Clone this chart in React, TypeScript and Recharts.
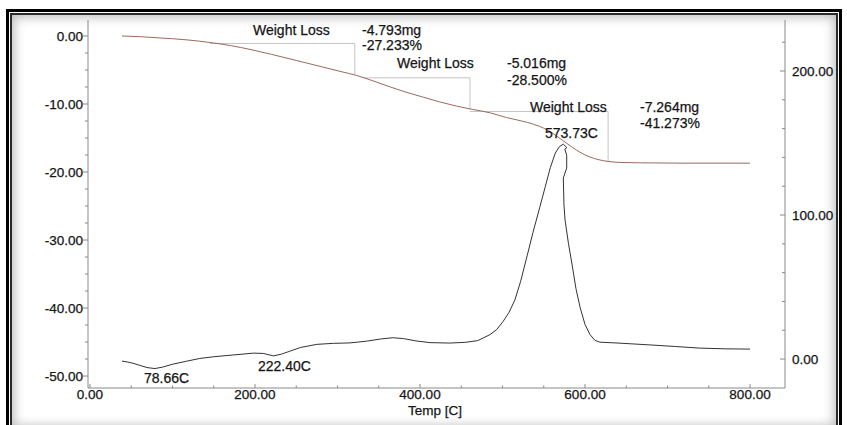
import { ComposedChart, Line, XAxis, YAxis } from 'recharts';

// TGA trace: [temp °C, weight change]
const tgaCurve: [number, number][] = [
  [38.8, 0], [60, -0.1], [80, -0.25], [100, -0.4], [120, -0.6], [145, -0.95],
  [170, -1.4], [195, -2.0], [220, -2.7], [250, -3.6], [280, -4.5], [303, -5.2],
  [323, -5.8], [343, -6.6], [364, -7.5], [384, -8.3], [404, -9.0], [424, -9.7],
  [444, -10.3], [464, -10.8], [485, -11.3], [505, -12.0], [530, -12.7], [545, -13.3],
  [554, -13.8], [562, -14.4], [570, -15.1], [578, -15.8], [585, -16.4], [594, -17.1],
  [606, -17.8], [617, -18.2], [628, -18.45], [645, -18.6], [667, -18.65], [720, -18.7],
  [800, -18.7],
];

// DTA trace: [temp °C, signal]
const dtaCurve: [number, number][] = [
  [38.8, -1.4], [45, -2.0], [52, -2.9], [60, -4.3], [69, -5.9], [78.66, -6.6],
  [88, -5.6], [100, -3.6], [117, -1.5], [133, 0.4], [150, 1.6], [173, 2.8],
  [198, 4.1], [210, 3.9], [222.4, 2.2], [232, 3.4], [242, 5.4], [255, 8.0],
  [275, 10.2], [295, 10.9], [315, 11.2], [335, 12.4], [352, 13.9], [367, 14.8],
  [380, 14.2], [395, 12.6], [412, 11.4], [436, 11.1], [455, 11.6], [470, 12.8],
  [485, 17.0], [493, 20.5], [500.6, 26], [508, 32.5], [515, 41], [522, 54],
  [530, 72], [537, 88], [545, 105], [552, 120], [558, 133], [564, 143],
  [569, 147.5], [573.73, 149.2], [578, 146.8], [575.5, 145.8], [577.8, 141.5],
  [577.8, 132.6], [573.7, 125.7], [574.5, 107], [575.8, 96.5], [580, 80],
  [584.2, 66], [589, 49], [594, 36], [600, 24], [606, 17], [612, 13],
  [618, 11.7], [640, 11.1], [679, 9.8], [710, 8.7], [739, 7.6], [770, 7.1],
  [800, 6.9],
];

// step markers for each weight-loss interval: start level, end temp, end level
const lossSteps: [number, number][][] = [
  [[145, -1.1], [321, -1.1], [321, -5.7]],
  [[331, -6.15], [460.6, -6.15], [460.6, -10.8]],
  [[460.6, -11.1], [628, -11.1], [628, -18.45]],
];

const lossMg = ['-4.793mg', '-5.016mg', '-7.264mg'];
const lossPct = ['-27.233%', '-28.500%', '-41.273%'];
const peakLabels = ['573.73C', '78.66C', '222.40C'];

const tempTicks = [0, 50, 100, 150, 200, 250, 300, 350, 400, 450, 500, 550, 600, 650, 700, 750, 800];
const weightTicks = [
  0, -2.5, -5, -7.5, -10, -12.5, -15, -17.5, -20, -22.5, -25, -27.5, -30,
  -32.5, -35, -37.5, -40, -42.5, -45, -47.5, -50,
];
const dtaTicks = [0, 20, 40, 60, 80, 100, 120, 140, 160, 180, 200, 220];

const toPoints = (rows: [number, number][]) => rows.map(([t, v]) => ({ t, v }));

const FONT = '"Liberation Sans", Arial, sans-serif';
const AXIS = '#8a8a8a';
const INK = '#151515';

// slightly heavier than regular, like the printed labels
const labelStyle = {
  fontFamily: FONT,
  fill: INK,
  stroke: INK,
  strokeWidth: 0.25,
};

function LeftTick({ x, y, payload }: any) {
  const major = payload.value % 10 === 0;
  return (
    <g>
      <line x1={x - (major ? 5 : 3)} x2={x} y1={y} y2={y} stroke={AXIS} />
      {major && (
        <text x={x - 5} y={y + 4.6} textAnchor="end" fontSize={13.5} {...labelStyle}>
          {payload.value.toFixed(2)}
        </text>
      )}
    </g>
  );
}

function RightTick({ x, y, payload }: any) {
  const major = payload.value % 100 === 0;
  return (
    <g>
      <line x1={x - (major ? 5 : 3)} x2={x} y1={y} y2={y} stroke={AXIS} />
      {major && (
        <text x={x + 7} y={y + 4.6} textAnchor="start" fontSize={13.5} {...labelStyle}>
          {payload.value.toFixed(2)}
        </text>
      )}
    </g>
  );
}

function BottomTick({ x, y, payload }: any) {
  const major = payload.value % 200 === 0;
  return (
    <g>
      <line x1={x} x2={x} y1={y} y2={y - (major ? 4 : 2.5)} stroke={AXIS} />
      {major && (
        <text x={x} y={y + 10.5} textAnchor="middle" fontSize={13.5} {...labelStyle}>
          {payload.value.toFixed(2)}
        </text>
      )}
    </g>
  );
}

function Frame() {
  return (
    <div
      style={{
        position: 'absolute',
        left: 6,
        top: 9,
        width: 836,
        height: 425,
        boxSizing: 'border-box',
        border: '3px solid #000',
      }}
    >
      <div style={{ position: 'absolute', inset: 0, border: '1px solid #fff' }}>
        <div
          style={{
            position: 'absolute',
            inset: 0,
            border: '2px solid #2a2a2a',
            boxShadow: 'inset 0 0 11px 2px rgba(0,0,0,0.28)',
          }}
        />
      </div>
    </div>
  );
}

export default function App() {
  const txt = { ...labelStyle, fontSize: 14 };
  return (
    <div
      style={{
        position: 'absolute',
        left: 0,
        top: 0,
        width: 847,
        height: 425,
        overflow: 'hidden',
        background: '#fff',
      }}
    >
      <Frame />
      <div style={{ position: 'absolute', left: 0, top: 0 }}>
        <ComposedChart width={847} height={425} margin={{ top: 20, right: 0, bottom: 0, left: 0 }}>
          <XAxis
            dataKey="t"
            type="number"
            domain={[-2.4, 842.4]}
            allowDataOverflow
            ticks={tempTicks}
            interval={0}
            tick={(p: any) => <BottomTick {...p} />}
            tickSize={0}
            tickMargin={0}
            tickLine={false}
            height={37}
            stroke={AXIS}
          />
          <YAxis
            yAxisId="w"
            orientation="left"
            type="number"
            domain={[-51.76, 2.35]}
            allowDataOverflow
            ticks={weightTicks}
            interval={0}
            tick={(p: any) => <LeftTick {...p} />}
            tickSize={0}
            tickMargin={0}
            tickLine={false}
            width={88}
            stroke={AXIS}
          />
          <YAxis
            yAxisId="d"
            orientation="right"
            type="number"
            domain={[-20.1, 235.4]}
            allowDataOverflow
            ticks={dtaTicks}
            interval={0}
            tick={(p: any) => <RightTick {...p} />}
            tickSize={0}
            tickMargin={0}
            tickLine={false}
            width={62}
            stroke={AXIS}
          />
          {lossSteps.map((step, i) => (
            <Line
              key={`step-${i}`}
              yAxisId="w"
              data={toPoints(step)}
              dataKey="v"
              type="linear"
              stroke="#c4c4c4"
              strokeWidth={1}
              dot={false}
              activeDot={false}
              isAnimationActive={false}
            />
          ))}
          <Line
            yAxisId="w"
            data={toPoints(tgaCurve)}
            dataKey="v"
            type="monotone"
            stroke="#9a6a5e"
            strokeWidth={1}
            dot={false}
            activeDot={false}
            isAnimationActive={false}
          />
          <Line
            yAxisId="d"
            data={toPoints(dtaCurve)}
            dataKey="v"
            type="linear"
            stroke="#333333"
            strokeWidth={1}
            dot={false}
            activeDot={false}
            isAnimationActive={false}
          />
        </ComposedChart>
      </div>
      <svg width={847} height={425} style={{ position: 'absolute', left: 0, top: 0, pointerEvents: 'none' }}>
        <text x={253} y={35} {...txt}>Weight Loss</text>
        <text x={362} y={35} {...txt}>{lossMg[0]}</text>
        <text x={362} y={50} {...txt}>{lossPct[0]}</text>
        <text x={397} y={68} {...txt}>Weight Loss</text>
        <text x={507} y={68} {...txt}>{lossMg[1]}</text>
        <text x={507} y={85} {...txt}>{lossPct[1]}</text>
        <text x={530} y={112} {...txt}>Weight Loss</text>
        <text x={640} y={112} {...txt}>{lossMg[2]}</text>
        <text x={640} y={128} {...txt}>{lossPct[2]}</text>
        <text x={545} y={138} {...txt}>{peakLabels[0]}</text>
        <text x={144} y={383} {...txt}>{peakLabels[1]}</text>
        <text x={258} y={371} {...txt}>{peakLabels[2]}</text>
        <text x={408} y={415} {...txt} fontSize={13.5}>Temp [C]</text>
      </svg>
    </div>
  );
}
